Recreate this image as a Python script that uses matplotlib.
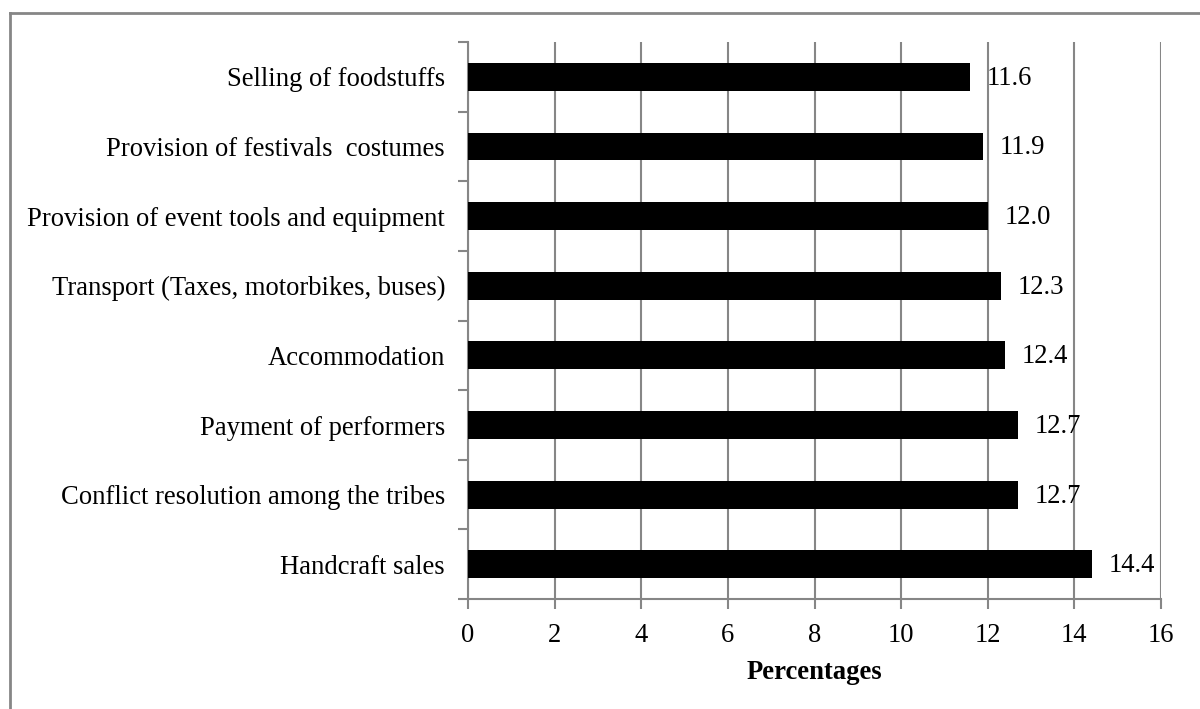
import matplotlib
matplotlib.use("Agg")
import matplotlib.pyplot as plt
from matplotlib.lines import Line2D

categories = [
    "Handcraft sales",
    "Conflict resolution among the tribes",
    "Payment of performers",
    "Accommodation",
    "Transport (Taxes, motorbikes, buses)",
    "Provision of event tools and equipment",
    "Provision of festivals  costumes",
    "Selling of foodstuffs",
]
values = [14.4, 12.7, 12.7, 12.4, 12.3, 12.0, 11.9, 11.6]
value_labels = ["14.4", "12.7", "12.7", "12.4", "12.3", "12.0", "11.9", "11.6"]
xticks = [0, 2, 4, 6, 8, 10, 12, 14, 16]
xlabel = "Percentages"

plt.rcParams["font.family"] = ["Liberation Serif", "DejaVu Serif"]
FS = 19.2
GRID = "#868686"

fig = plt.figure(figsize=(12, 7.09), dpi=100)
ax = fig.add_axes([0.39, 0.155, 0.9675 - 0.39, 0.9408 - 0.155])

ypos = list(range(len(categories)))
ax.barh(ypos, values, height=0.4, color="black", zorder=3)

for y, v, lab in zip(ypos, values, value_labels):
    ax.annotate(lab, xy=(v, y), xytext=(12, -1), textcoords="offset points",
                ha="left", va="center", fontsize=FS, color="black", zorder=4)

ax.set_xlim(0, 16)
ax.set_ylim(-0.5, len(categories) - 0.5)
ax.set_xticks(xticks)
ax.set_xticklabels([str(t) for t in xticks], fontsize=FS)
ax.set_yticks(ypos)
ax.set_yticklabels(categories, fontsize=FS)
ax.set_yticks([i - 0.5 for i in range(len(categories) + 1)], minor=True)

ax.tick_params(axis="y", which="major", length=0, pad=16.5)
ax.tick_params(axis="y", which="minor", length=7, width=1.5, color=GRID, direction="out")
ax.tick_params(axis="x", which="major", length=7, width=1.5, color=GRID, direction="out", pad=10)

ax.xaxis.grid(True, color=GRID, linewidth=1.5, zorder=0)
ax.set_axisbelow(True)

for side in ("top", "right"):
    ax.spines[side].set_visible(False)
for side in ("left", "bottom"):
    ax.spines[side].set_color(GRID)
    ax.spines[side].set_linewidth(1.5)

ax.set_xlabel(xlabel, fontsize=FS, fontweight="bold", labelpad=9)

# chart-area frame (left and top edges)
fig.add_artist(Line2D([10 / 1200, 10 / 1200], [0, 1 - 13 / 709], transform=fig.transFigure,
                      color=GRID, linewidth=2))
fig.add_artist(Line2D([10 / 1200, 1], [1 - 13 / 709, 1 - 13 / 709], transform=fig.transFigure,
                      color=GRID, linewidth=2))

fig.savefig("out.png", dpi=100, facecolor="white")
